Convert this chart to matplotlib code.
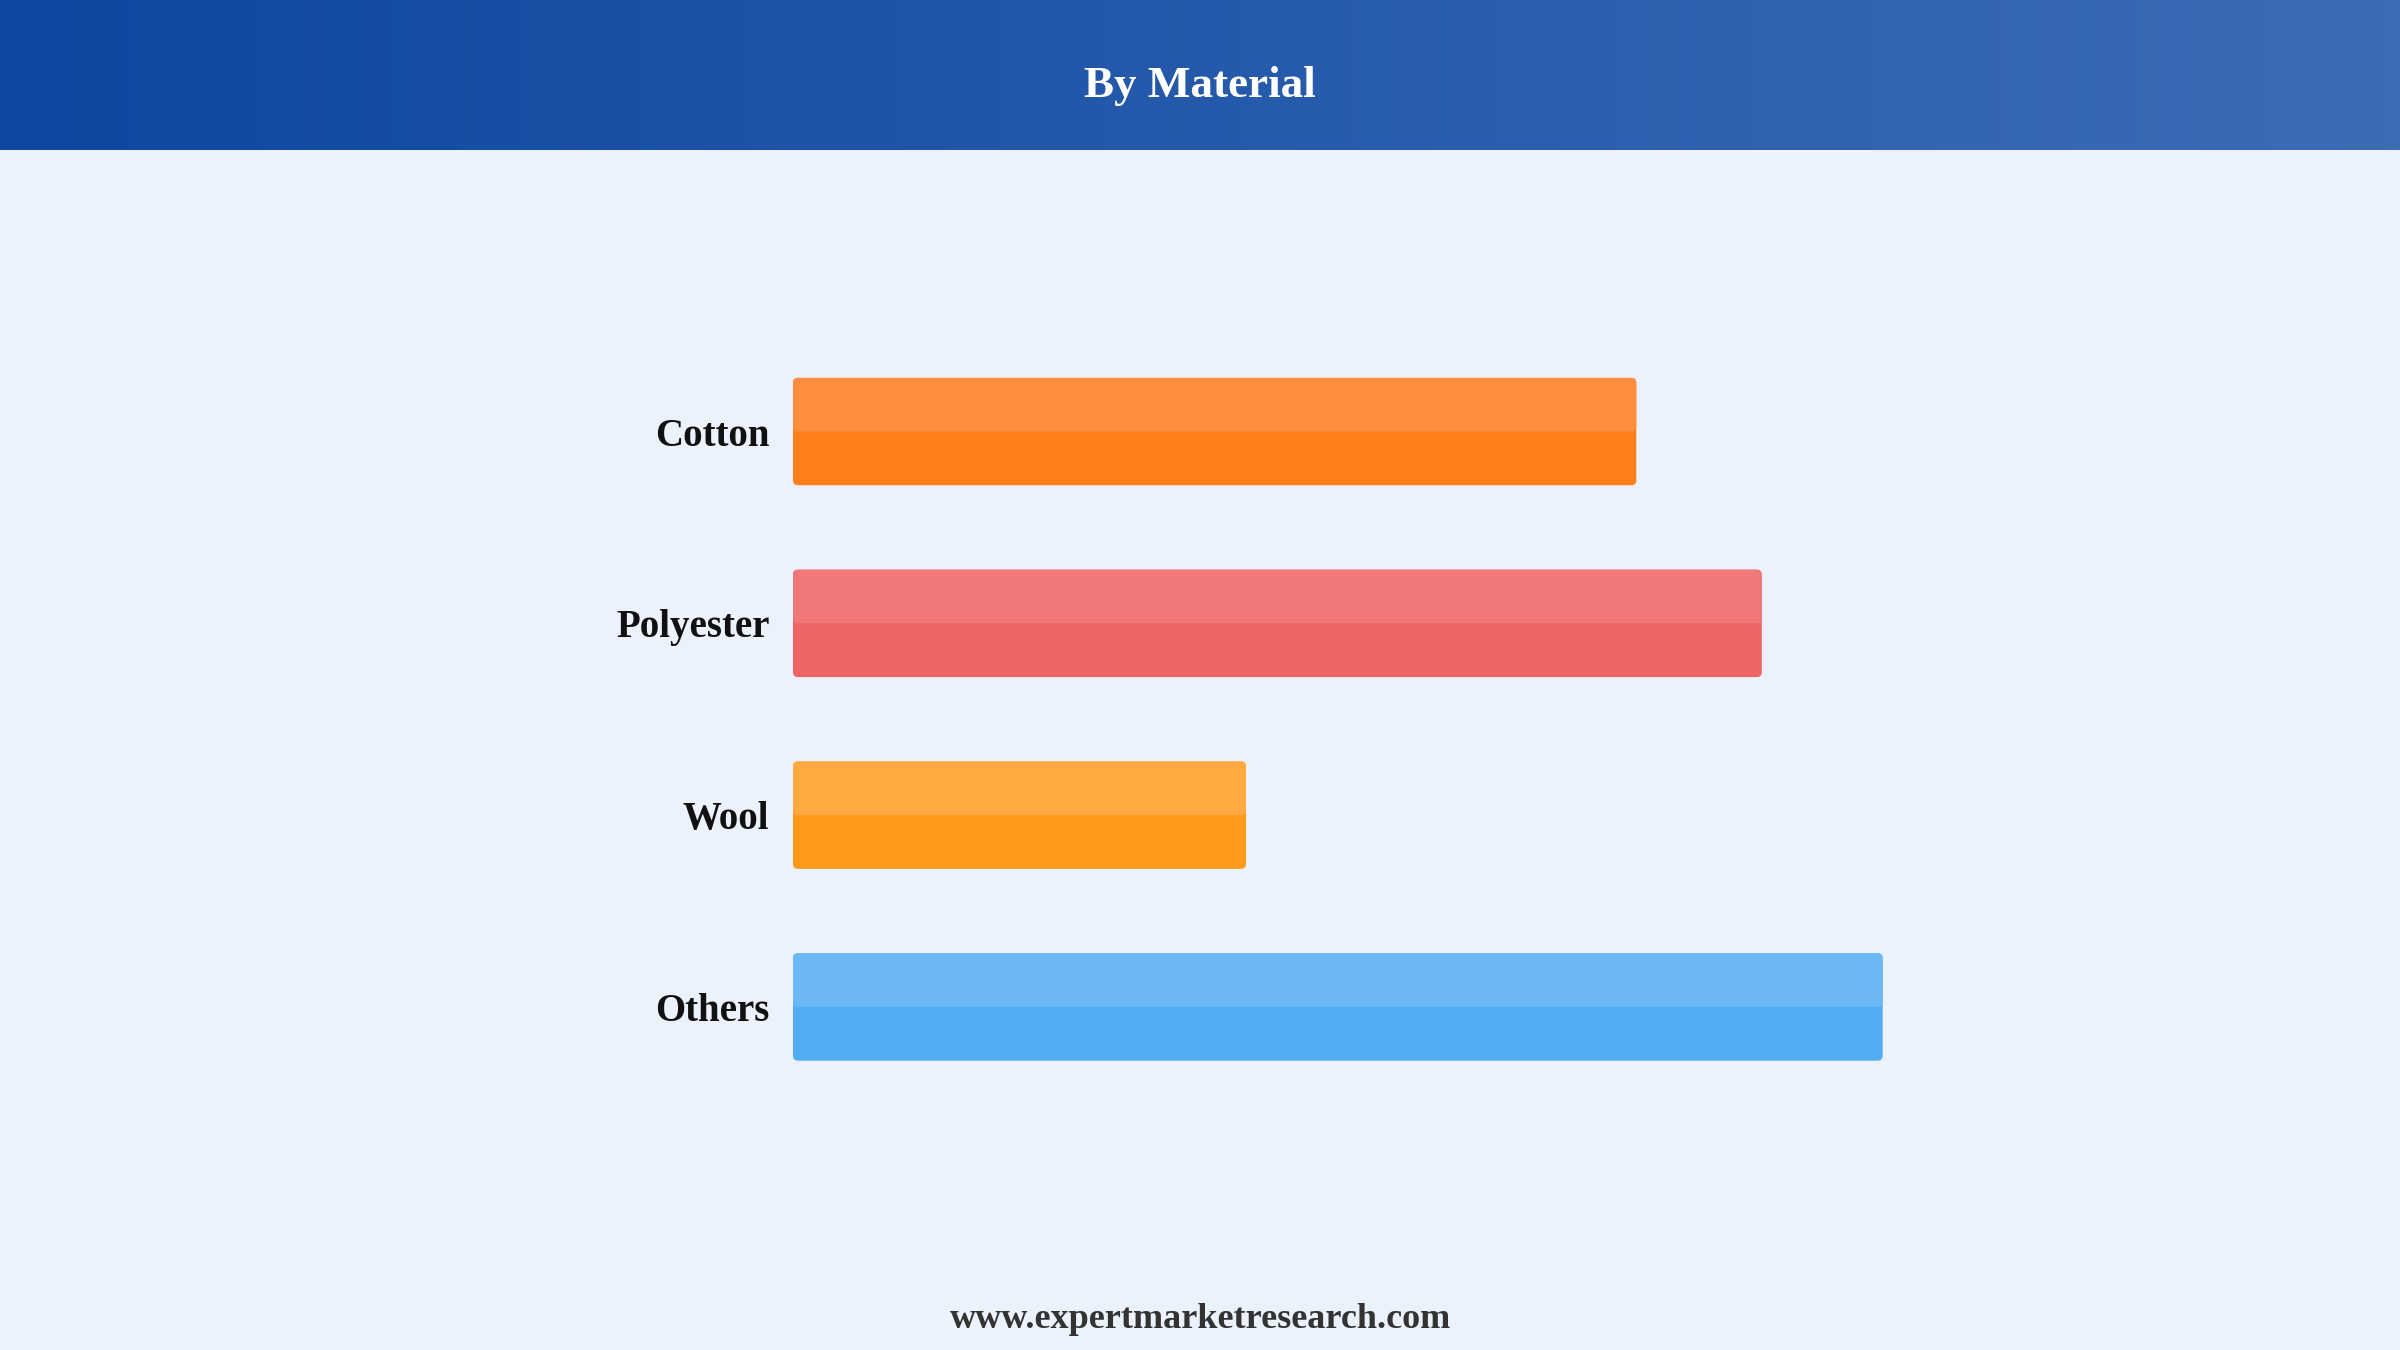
import numpy as np
import matplotlib.pyplot as plt
from matplotlib.patches import FancyBboxPatch
from matplotlib.colors import LinearSegmentedColormap

categories = ["Cotton", "Polyester", "Wool", "Others"]
values = [551, 633, 296, 712]
top_colors = ["#FF8E3E", "#F07878", "#FFA940", "#6BB8F5"]
base_colors = ["#FF7F1A", "#EF6565", "#FF9A1A", "#52ADF3"]

bg = "#EBF2FC"
fig = plt.figure(figsize=(24, 13.5), dpi=100, facecolor=bg)

# header band with gradient
hax = fig.add_axes([0, 1 - 150 / 1350, 1, 150 / 1350])
cmap = LinearSegmentedColormap.from_list("hdr", ["#0D47A1", "#3D6CB5"])
hax.imshow(np.linspace(0, 1, 256).reshape(1, -1), aspect="auto", cmap=cmap,
           extent=[0, 1, 0, 1])
hax.set_axis_off()
hax.text(0.5, 0.43, "By Material", color="white", ha="center", va="center",
         fontsize=32.5, fontweight="bold", family="Liberation Serif")

# bar axes
ax = fig.add_axes([793 / 2400, 1 - 1255 / 1350, 1 - 793 / 2400, (1255 - 150) / 1350])
ax.set_facecolor(bg)
ax.set_xlim(0, 1050)
ax.set_ylim(4.293, -1.468)
ypos = np.arange(len(categories))
h = 0.56
bars = ax.barh(ypos, values, height=h, color="none")

px_x = 1050 / (2400 * (1 - 793 / 2400))
px_y = (4.293 + 1.468) / (1255 - 150)
r = 5 * px_x
asp = px_y / px_x
for b, tc, bc in zip(bars, top_colors, base_colors):
    x, y, w, hh = b.get_x(), b.get_y(), b.get_width(), b.get_height()
    ax.add_patch(FancyBboxPatch((x, y), w, hh, boxstyle=f"round,pad=0,rounding_size={r}",
                                mutation_aspect=asp, facecolor=bc, edgecolor="none"))
    # lighter upper half
    ax.add_patch(FancyBboxPatch((x, y), w, hh / 2, boxstyle=f"round,pad=0,rounding_size={r}",
                                mutation_aspect=asp, facecolor=tc, edgecolor="none"))

ax.set_yticks(ypos)
ax.set_yticklabels(categories, fontsize=28, fontweight="bold", family="Liberation Serif",
                   color="#111111")
ax.tick_params(axis="y", length=0, pad=17)
ax.set_xticks([])
for s in ax.spines.values():
    s.set_visible(False)

fig.text(0.5, 1 - 1319 / 1350, "www.expertmarketresearch.com", ha="center", va="center",
         fontsize=26, fontweight="bold", family="Liberation Serif", color="#333333")

fig.savefig("out.png", dpi=100, facecolor=bg)
